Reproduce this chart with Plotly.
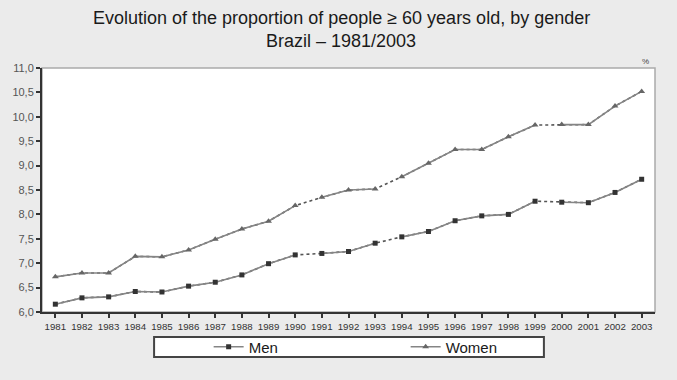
import plotly.graph_objects as go

# Proportion (%) of people aged 60+ in Brazil, by gender
years = list(range(1981, 2004))
men = [6.16, 6.29, 6.31, 6.42, 6.41, 6.53, 6.61, 6.76, 6.99, 7.17, 7.20, 7.24,
       7.41, 7.54, 7.65, 7.87, 7.97, 8.00, 8.27, 8.25, 8.24, 8.45, 8.72]
women = [6.72, 6.80, 6.80, 7.14, 7.13, 7.27, 7.49, 7.70, 7.86, 8.18, 8.35, 8.50,
         8.52, 8.77, 9.05, 9.33, 9.33, 9.59, 9.83, 9.84, 9.84, 10.22, 10.52]
# Years after which there was no survey: the following segment is drawn dotted
gap_after = [1990, 1993, 1999]
y_ticks = [6.0, 6.5, 7.0, 7.5, 8.0, 8.5, 9.0, 9.5, 10.0, 10.5, 11.0]
title_lines = ["Evolution of the proportion of people \u2265 60 years old, by gender",
               "Brazil \u2013 1981/2003"]

W, H = 677, 380
L, R, T, B = 37, 22, 68, 68
PW, PH = W - L - R, H - T - B


def px(x):
    return (x - L) / PW


def py(y):
    return (H - B - y) / PH


def solid_parts(xs, ys):
    """Break the series at the survey gaps (None ends a line segment)."""
    ox, oy = [], []
    for x, y in zip(xs, ys):
        ox.append(x)
        oy.append(y)
        if x in gap_after:
            ox.append(None)
            oy.append(None)
    return ox, oy


LINE = "#858585"
fig = go.Figure()

series = [
    ("Men", men, dict(symbol="square", size=5, color="#333333")),
    ("Women", women, dict(symbol="triangle-up", size=6, color="#666666")),
]
for name, vals, mk in series:
    # dotted connection across the whole series (visible only where solid is broken)
    fig.add_trace(go.Scatter(
        x=years, y=vals, mode="lines", showlegend=False, hoverinfo="skip",
        line=dict(color="#555555", width=1.6, dash="dot"),
    ))
    sx, sy = solid_parts(years, vals)
    fig.add_trace(go.Scatter(
        x=sx, y=sy, mode="lines+markers", name=name, connectgaps=False,
        line=dict(color=LINE, width=1.6), marker=mk,
    ))

annotations = [
    dict(text=t, xref="paper", yref="paper", x=px(W / 2), y=py(yc),
         xanchor="center", yanchor="middle", showarrow=False,
         font=dict(size=18, color="#1a1a1a"))
    for t, yc in zip(title_lines, [18, 41])
]
annotations.append(
    dict(text="%", xref="paper", yref="paper", x=px(651), y=py(55),
         showarrow=False, font=dict(size=8, color="#444444")))

fig.update_layout(
    width=W, height=H,
    margin=dict(l=L, r=R, t=T, b=B),
    paper_bgcolor="#ebebeb",
    plot_bgcolor="#ffffff",
    font=dict(family="Liberation Sans, Arial, sans-serif", color="#444444"),
    showlegend=True,
    legend=dict(
        orientation="h", x=px(205), xanchor="left", y=py(347), yanchor="middle",
        bgcolor="rgba(0,0,0,0)", borderwidth=0,
        font=dict(size=15, color="#1a1a1a"),
        entrywidth=152, entrywidthmode="pixels",
    ),
    xaxis=dict(
        range=[1980.5, 2003.5], tickmode="array", tickvals=years,
        ticktext=[str(y) for y in years],
        ticks="outside", ticklen=4, tickwidth=1.5, tickcolor="#333333",
        showgrid=False, zeroline=False,
        showline=True, linecolor="#333333", linewidth=2,
        tickfont=dict(size=9.7, color="#333333"),
    ),
    yaxis=dict(
        range=[6, 11], tickmode="array", tickvals=y_ticks,
        ticktext=[f"{v:.1f}".replace(".", ",") for v in y_ticks],
        ticks="outside", ticklen=4, tickwidth=1.5, tickcolor="#333333",
        showgrid=False, zeroline=False,
        showline=True, linecolor="#333333", linewidth=2,
        tickfont=dict(size=11, color="#555555"),
    ),
    shapes=[
        # plot frame (top and right edges)
        dict(type="rect", xref="paper", yref="paper", x0=0, x1=1, y0=0, y1=1,
             line=dict(color="#aaaaaa", width=1.5), layer="below"),
        # legend box
        dict(type="rect", xref="paper", yref="paper",
             x0=px(150), x1=px(543), y0=py(357), y1=py(337),
             line=dict(color="#444444", width=2), fillcolor="#ffffff", layer="below"),
    ],
    annotations=annotations,
)

fig.write_html("out.html")
